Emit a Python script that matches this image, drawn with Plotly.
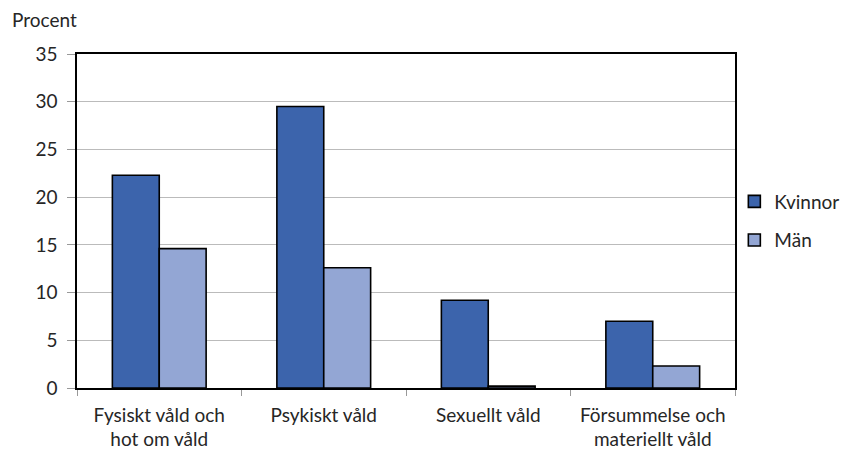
import plotly.graph_objects as go

categories = ["Fysiskt våld och<br>hot om våld", "Psykiskt våld", "Sexuellt våld", "Försummelse och<br>materiellt våld"]
kvinnor = [22.3, 29.5, 9.2, 7.0]
man = [14.6, 12.6, 0.2, 2.3]
y_ticks = [0, 5, 10, 15, 20, 25, 30, 35]

FONT = "Lato"
TXT = "#262626"
FS = 19

fig = go.Figure()
fig.add_trace(go.Bar(x=categories, y=kvinnor, name="Kvinnor", legendgroup="k",
                     marker=dict(color="#3C64AC", line=dict(color="black", width=1.6))))
fig.add_trace(go.Bar(x=categories, y=man, name="Män", legendgroup="m",
                     marker=dict(color="#93A6D4", line=dict(color="black", width=1.6))))

fig.update_layout(
    width=858, height=450,
    margin=dict(l=69, r=131, t=46, b=70, autoexpand=False),
    plot_bgcolor="white", paper_bgcolor="white",
    barmode="group", bargap=0.43, bargroupgap=0,
    font=dict(family=FONT, size=FS, color=TXT),
    legend=dict(x=0.999, xanchor="left", y=0.5, yanchor="middle",
                bgcolor="rgba(0,0,0,0)",
                font=dict(size=FS, color=TXT), tracegroupgap=11,
                traceorder="grouped"),
    xaxis=dict(showgrid=False, ticks="outside", tickson="boundaries", ticklen=6,
               tickcolor="#999999", showline=True, linecolor="black", linewidth=1.5,
               mirror=True, tickfont=dict(size=FS, color=TXT), ticklabelstandoff=9),
    yaxis=dict(range=[0, 35], tickvals=y_ticks, showgrid=True, gridcolor="#BBBBBB",
               gridwidth=1, ticks="outside", ticklen=8, tickcolor="#999999",
               showline=True, linecolor="black", linewidth=1.5, mirror=True,
               zeroline=False, tickfont=dict(size=FS, color=TXT), ticklabelstandoff=6),
    annotations=[dict(text="Procent", xref="paper", yref="paper", x=-69/658 + 2/658, y=1 + 34/334,
                      xanchor="left", yanchor="middle", showarrow=False,
                      font=dict(size=FS, color=TXT))],
)
fig.write_html("out.html")
